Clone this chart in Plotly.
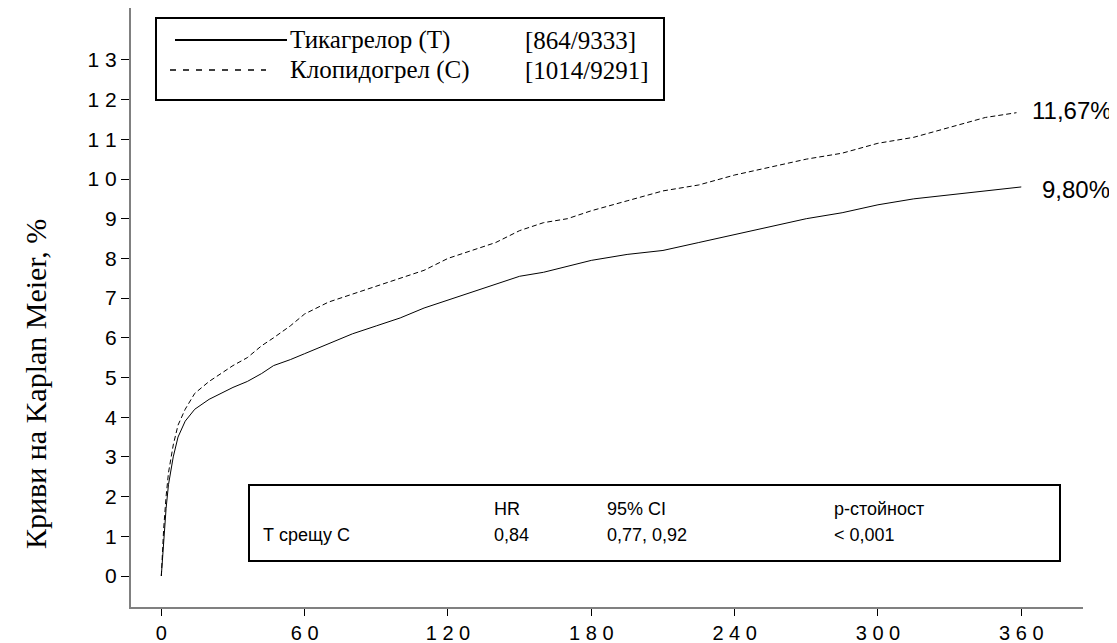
import plotly.graph_objects as go

# ---------------- data ----------------
days = [0, 1, 2, 3, 5, 7, 10, 14, 20, 25, 30, 36, 42, 47, 54, 60, 70, 80, 90, 100,
        110, 120, 130, 140, 150, 160, 170, 180, 195, 210, 225, 240, 255, 270, 285,
        300, 315, 330, 345]
risk_T = [0, 1.0, 1.7, 2.3, 3.0, 3.5, 3.9, 4.2, 4.45, 4.6, 4.75, 4.9, 5.1, 5.3, 5.45,
          5.6, 5.85, 6.1, 6.3, 6.5, 6.75, 6.95, 7.15, 7.35, 7.55, 7.65, 7.8, 7.95, 8.1,
          8.2, 8.4, 8.6, 8.8, 9.0, 9.15, 9.35, 9.5, 9.6, 9.7]
risk_C = [0, 1.2, 2.0, 2.6, 3.3, 3.8, 4.2, 4.6, 4.9, 5.1, 5.3, 5.5, 5.8, 6.0, 6.3,
          6.6, 6.9, 7.1, 7.3, 7.5, 7.7, 8.0, 8.2, 8.4, 8.7, 8.9, 9.0, 9.2, 9.45, 9.7,
          9.85, 10.1, 10.3, 10.5, 10.65, 10.9, 11.05, 11.3, 11.55]
end_day_T, end_T = 360, 9.80
end_day_C, end_C = 358, 11.67

x_ticks = [0, 60, 120, 180, 240, 300, 360]
y_ticks = list(range(0, 14))

series_names = ["Тикагрелор (Т)", "Клопидогрел (С)"]
series_counts = ["[864/9333]", "[1014/9291]"]
end_labels = ["9,80%", "11,67%"]

stats_header = ["", "HR", "95% CI", "р-стойност"]
stats_row = ["Т срещу С", "0,84", "0,77, 0,92", "< 0,001"]

y_title = "Криви на Kaplan Meier, %"

# ---------------- layout helpers ----------------
W, H = 1117, 643
L, R, T, B = 123, 1075, 0, 599


def px(xp):
    return (xp - L) / (R - L)


def py(yp):
    return 1 - (yp - T) / (B - T)


def spaced(v):
    return "\u00a0".join(str(v))


SANS = "Arial, Liberation Sans, sans-serif"
SERIF = "Times New Roman, Liberation Serif, serif"

fig = go.Figure()
fig.add_trace(go.Scatter(x=days + [end_day_T], y=risk_T + [end_T], mode="lines",
                         line=dict(color="black", width=1), showlegend=False,
                         name=series_names[0]))
fig.add_trace(go.Scatter(x=days + [end_day_C], y=risk_C + [end_C], mode="lines",
                         line=dict(color="black", width=1, dash="5px,3px"),
                         showlegend=False, name=series_names[1]))

shapes = []
annotations = []

# legend box
shapes.append(dict(type="rect", xref="paper", yref="paper", x0=px(148), x1=px(656),
                   y0=py(92), y1=py(10), line=dict(color="black", width=2)))
shapes.append(dict(type="line", xref="paper", yref="paper", x0=px(167), x1=px(279),
                   y0=py(32), y1=py(32), line=dict(color="black", width=2)))
shapes.append(dict(type="line", xref="paper", yref="paper", x0=px(162), x1=px(258),
                   y0=py(62), y1=py(62), line=dict(color="black", width=1.5, dash="6px,7px")))
for i, yy in enumerate([32, 62]):
    annotations.append(dict(xref="paper", yref="paper", x=px(280), y=py(yy),
                            text=series_names[i], showarrow=False, xanchor="left",
                            yanchor="middle", font=dict(family=SERIF, size=25, color="black")))
    annotations.append(dict(xref="paper", yref="paper", x=px(515), y=py(yy),
                            text=series_counts[i], showarrow=False, xanchor="left",
                            yanchor="middle", font=dict(family=SERIF, size=25, color="black")))

# stats box
shapes.append(dict(type="rect", xref="paper", yref="paper", x0=px(241), x1=px(1052),
                   y0=py(553), y1=py(477), line=dict(color="black", width=2)))
col_x = [253, 484, 597, 824]
for j in range(4):
    for row, yy in [(stats_header, 501), (stats_row, 527)]:
        if row[j]:
            annotations.append(dict(xref="paper", yref="paper", x=px(col_x[j]), y=py(yy),
                                    text=row[j], showarrow=False, xanchor="left",
                                    yanchor="middle",
                                    font=dict(family=SANS, size=18, color="black")))

# end labels
annotations.append(dict(xref="paper", yref="paper", x=px(1032), y=py(181.7),
                        text=end_labels[0], showarrow=False, xanchor="left", yanchor="middle",
                        font=dict(family=SANS, size=24, color="black")))
annotations.append(dict(xref="paper", yref="paper", x=px(1022), y=py(102.7),
                        text=end_labels[1], showarrow=False, xanchor="left", yanchor="middle",
                        font=dict(family=SANS, size=24, color="black")))

# y title
annotations.append(dict(xref="paper", yref="paper", x=px(27), y=py(376), text=y_title,
                        textangle=-90, showarrow=False, xanchor="center", yanchor="middle",
                        font=dict(family=SERIF, size=30, color="black")))

x_lo = (L - 153.3) * 60 / 143.33
x_hi = (R - 153.3) * 60 / 143.33
y_hi = (568 - T) / 39.7
y_lo = (568 - B) / 39.7

fig.update_layout(
    width=W, height=H,
    margin=dict(l=L, r=W - R, t=T, b=H - B, pad=0),
    paper_bgcolor="white", plot_bgcolor="white",
    shapes=shapes, annotations=annotations,
    xaxis=dict(range=[x_lo, x_hi], tickvals=x_ticks, ticktext=[spaced(v) for v in x_ticks],
               showline=True, linecolor="#808080", linewidth=2, ticks="outside",
               ticklen=7, tickwidth=1, tickcolor="black", showgrid=False, zeroline=False,
               tickfont=dict(family=SANS, size=20, color="black")),
    yaxis=dict(range=[y_lo, y_hi], tickvals=y_ticks, ticktext=[spaced(v) for v in y_ticks],
               showline=True, linecolor="#808080", linewidth=2, ticks="outside",
               ticklen=8, tickwidth=1, tickcolor="black", showgrid=False, zeroline=False,
               tickfont=dict(family=SANS, size=21, color="black")),
)

fig.write_html("out.html")
